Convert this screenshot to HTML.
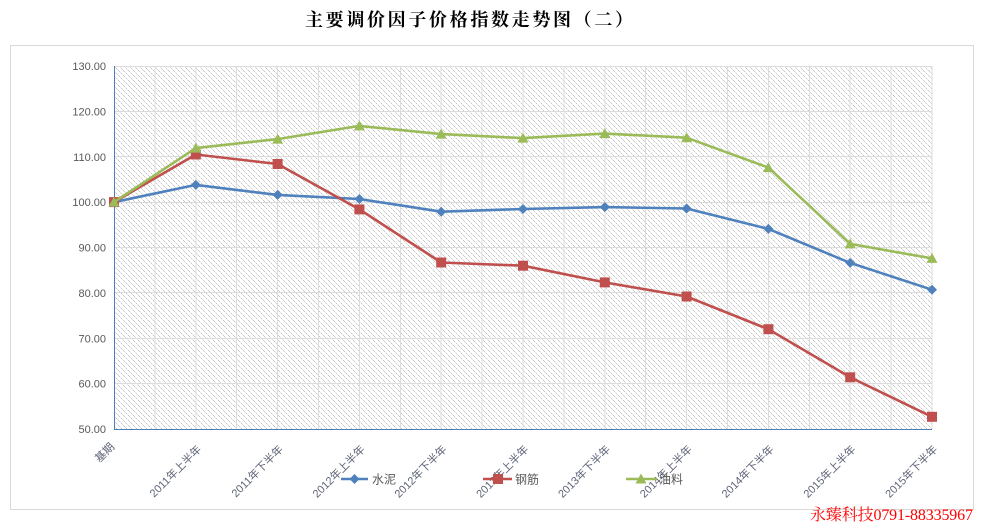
<!DOCTYPE html>
<html>
<head>
<meta charset="utf-8">
<style>
html,body{margin:0;padding:0;background:#fff;}
body{width:983px;height:523px;overflow:hidden;}
svg{display:block;}
</style>
</head>
<body>
<svg width="983" height="523" viewBox="0 0 983 523" xmlns="http://www.w3.org/2000/svg">
<defs>
<pattern id="hatch" patternUnits="userSpaceOnUse" x="114" y="66" width="5" height="5">
<rect x="0" y="0" width="5" height="5" fill="#ffffff"/>
<rect x="0" y="0" width="1" height="1" fill="#c6c6c6"/>
<rect x="1" y="1" width="1" height="1" fill="#e2e2e2"/>
<rect x="2" y="2" width="1" height="1" fill="#c6c6c6"/>
<rect x="3" y="3" width="1" height="1" fill="#e2e2e2"/>
<rect x="4" y="4" width="1" height="1" fill="#c6c6c6"/>
</pattern>
</defs>

<!-- Title -->
<text x="305" y="26" textLength="328" lengthAdjust="spacing" font-family="'Liberation Serif','Noto Serif CJK SC',serif" font-weight="bold" font-size="18" fill="#000">主要调价因子价格指数走势图（二）</text>

<!-- Outer chart border -->
<rect x="10.5" y="45.5" width="963" height="464" fill="#fff" stroke="#d9d9d9" stroke-width="1"/>

<!-- Plot area hatch -->
<rect x="114" y="66" width="818" height="363" fill="url(#hatch)" shape-rendering="crispEdges"/>

<!-- Gridlines -->
<g stroke="#dcdcdc" stroke-width="1" shape-rendering="crispEdges">
<line x1="114" y1="66.5" x2="932" y2="66.5"/>
<line x1="114" y1="111.5" x2="932" y2="111.5"/>
<line x1="114" y1="156.5" x2="932" y2="156.5"/>
<line x1="114" y1="202.5" x2="932" y2="202.5"/>
<line x1="114" y1="247.5" x2="932" y2="247.5"/>
<line x1="114" y1="292.5" x2="932" y2="292.5"/>
<line x1="114" y1="338.5" x2="932" y2="338.5"/>
<line x1="114" y1="383.5" x2="932" y2="383.5"/>
<line x1="154.9" y1="66" x2="154.9" y2="429"/>
<line x1="195.8" y1="66" x2="195.8" y2="429"/>
<line x1="236.7" y1="66" x2="236.7" y2="429"/>
<line x1="277.6" y1="66" x2="277.6" y2="429"/>
<line x1="318.5" y1="66" x2="318.5" y2="429"/>
<line x1="359.4" y1="66" x2="359.4" y2="429"/>
<line x1="400.3" y1="66" x2="400.3" y2="429"/>
<line x1="441.2" y1="66" x2="441.2" y2="429"/>
<line x1="482.1" y1="66" x2="482.1" y2="429"/>
<line x1="523" y1="66" x2="523" y2="429"/>
<line x1="563.9" y1="66" x2="563.9" y2="429"/>
<line x1="604.8" y1="66" x2="604.8" y2="429"/>
<line x1="645.7" y1="66" x2="645.7" y2="429"/>
<line x1="686.6" y1="66" x2="686.6" y2="429"/>
<line x1="727.5" y1="66" x2="727.5" y2="429"/>
<line x1="768.4" y1="66" x2="768.4" y2="429"/>
<line x1="809.3" y1="66" x2="809.3" y2="429"/>
<line x1="850.2" y1="66" x2="850.2" y2="429"/>
<line x1="891.1" y1="66" x2="891.1" y2="429"/>
<line x1="932" y1="66" x2="932" y2="429"/>
</g>

<!-- Axes -->
<g stroke="#4a7ebb" stroke-width="1.2" shape-rendering="crispEdges">
<line x1="114.5" y1="66" x2="114.5" y2="429.5"/>
<line x1="114" y1="429.5" x2="932" y2="429.5"/>
</g>

<!-- Y axis labels -->
<g font-family="'Liberation Sans',sans-serif" font-size="11" fill="#595959" text-anchor="end">
<text x="106" y="70">130.00</text>
<text x="106" y="115.4">120.00</text>
<text x="106" y="160.8">110.00</text>
<text x="106" y="206.1">100.00</text>
<text x="106" y="251.5">90.00</text>
<text x="106" y="296.9">80.00</text>
<text x="106" y="342.3">70.00</text>
<text x="106" y="387.6">60.00</text>
<text x="106" y="433">50.00</text>
</g>

<!-- X axis labels -->
<g font-family="'Liberation Sans','Noto Sans CJK SC',sans-serif" font-size="11" fill="#5f6478" text-anchor="end">
<text x="115" y="447.5" transform="rotate(-45 115 447.5)">基期</text>
<text x="202" y="450" transform="rotate(-45 202 450)">2011年上半年</text>
<text x="283.8" y="450" transform="rotate(-45 283.8 450)">2011年下半年</text>
<text x="365.6" y="450" transform="rotate(-45 365.6 450)">2012年上半年</text>
<text x="447.4" y="450" transform="rotate(-45 447.4 450)">2012年下半年</text>
<text x="529.2" y="450" transform="rotate(-45 529.2 450)">2013年上半年</text>
<text x="611" y="450" transform="rotate(-45 611 450)">2013年下半年</text>
<text x="692.8" y="450" transform="rotate(-45 692.8 450)">2014年上半年</text>
<text x="774.6" y="450" transform="rotate(-45 774.6 450)">2014年下半年</text>
<text x="856.4" y="450" transform="rotate(-45 856.4 450)">2015年上半年</text>
<text x="938.2" y="450" transform="rotate(-45 938.2 450)">2015年下半年</text>
</g>

<!-- Series: 水泥 (blue) -->
<polyline fill="none" stroke="#4f81bd" stroke-width="2.6" stroke-linejoin="round" stroke-linecap="round"
points="114,202.1 195.8,184.9 277.6,194.9 359.4,199 441.2,211.7 523,209 604.8,207.1 686.6,208.5 768.4,228.9 850.2,262.9 932,289.7"/>
<g fill="#4f81bd">
<polygon points="114,197.1 119,202.1 114,207.1 109,202.1"/>
<polygon points="195.8,179.9 200.8,184.9 195.8,189.9 190.8,184.9"/>
<polygon points="277.6,189.9 282.6,194.9 277.6,199.9 272.6,194.9"/>
<polygon points="359.4,194 364.4,199 359.4,204 354.4,199"/>
<polygon points="441.2,206.7 446.2,211.7 441.2,216.7 436.2,211.7"/>
<polygon points="523,204 528,209 523,214 518,209"/>
<polygon points="604.8,202.1 609.8,207.1 604.8,212.1 599.8,207.1"/>
<polygon points="686.6,203.5 691.6,208.5 686.6,213.5 681.6,208.5"/>
<polygon points="768.4,223.9 773.4,228.9 768.4,233.9 763.4,228.9"/>
<polygon points="850.2,257.9 855.2,262.9 850.2,267.9 845.2,262.9"/>
<polygon points="932,284.7 937,289.7 932,294.7 927,289.7"/>
</g>

<!-- Series: 钢筋 (red) -->
<polyline fill="none" stroke="#c0504d" stroke-width="2.6" stroke-linejoin="round" stroke-linecap="round"
points="114,202.1 195.8,154.5 277.6,164 359.4,209.4 441.2,262.5 523,265.7 604.8,282.4 686.6,296.5 768.4,329.2 850.2,377.3 932,416.8"/>
<g fill="#c0504d">
<rect x="109" y="197.1" width="10" height="10"/>
<rect x="190.8" y="149.5" width="10" height="10"/>
<rect x="272.6" y="159" width="10" height="10"/>
<rect x="354.4" y="204.4" width="10" height="10"/>
<rect x="436.2" y="257.5" width="10" height="10"/>
<rect x="518" y="260.7" width="10" height="10"/>
<rect x="599.8" y="277.4" width="10" height="10"/>
<rect x="681.6" y="291.5" width="10" height="10"/>
<rect x="763.4" y="324.2" width="10" height="10"/>
<rect x="845.2" y="372.3" width="10" height="10"/>
<rect x="927" y="411.8" width="10" height="10"/>
</g>

<!-- Series: 油料 (green) -->
<polyline fill="none" stroke="#9bbb59" stroke-width="2.6" stroke-linejoin="round" stroke-linecap="round"
points="114,202.1 195.8,148.1 277.6,139.1 359.4,125.9 441.2,134.1 523,138.1 604.8,133.6 686.6,137.7 768.4,167.6 850.2,243.9 932,258.4"/>
<g fill="#9bbb59">
<polygon points="114,196.6 119.5,206.6 108.5,206.6"/>
<polygon points="195.8,142.6 201.3,152.6 190.3,152.6"/>
<polygon points="277.6,133.6 283.1,143.6 272.1,143.6"/>
<polygon points="359.4,120.4 364.9,130.4 353.9,130.4"/>
<polygon points="441.2,128.6 446.7,138.6 435.7,138.6"/>
<polygon points="523,132.6 528.5,142.6 517.5,142.6"/>
<polygon points="604.8,128.1 610.3,138.1 599.3,138.1"/>
<polygon points="686.6,132.2 692.1,142.2 681.1,142.2"/>
<polygon points="768.4,162.1 773.9,172.1 762.9,172.1"/>
<polygon points="850.2,238.4 855.7,248.4 844.7,248.4"/>
<polygon points="932,252.9 937.5,262.9 926.5,262.9"/>
</g>

<!-- Legend -->
<g>
<line x1="341" y1="479" x2="368" y2="479" stroke="#4f81bd" stroke-width="2.6"/>
<polygon points="354.5,474 359.5,479 354.5,484 349.5,479" fill="#4f81bd"/>
<line x1="483" y1="479" x2="512" y2="479" stroke="#c0504d" stroke-width="2.6"/>
<rect x="493" y="474" width="10" height="10" fill="#c0504d"/>
<line x1="626" y1="479" x2="657" y2="479" stroke="#9bbb59" stroke-width="2.6"/>
<polygon points="641,473.5 646.5,483.5 635.5,483.5" fill="#9bbb59"/>
<g font-family="'Liberation Sans','Noto Sans CJK SC',sans-serif" font-size="12" fill="#595959">
<text x="372" y="483.5">水泥</text>
<text x="515" y="483.5">钢筋</text>
<text x="659" y="483.5">油料</text>
</g>
</g>

<!-- Watermark -->
<text x="810" y="520" textLength="163" lengthAdjust="spacing" font-family="'Liberation Serif','Noto Serif CJK SC',serif" font-size="16" fill="#ff0000">永臻科技0791-88335967</text>
</svg>
</body>
</html>
